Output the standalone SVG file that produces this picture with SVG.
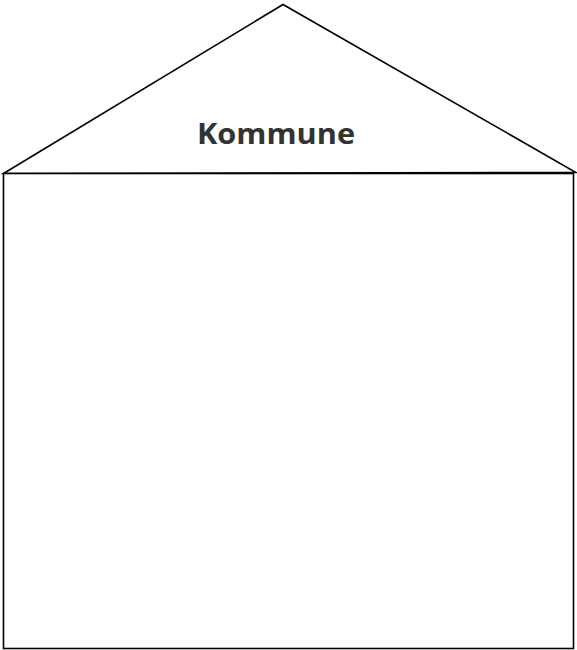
<svg xmlns="http://www.w3.org/2000/svg" width="577" height="650" viewBox="0 0 577 650">
  <style>
    .outline { fill: #ffffff; stroke: #000000; stroke-width: 1.6; stroke-linejoin: miter; }
    .title { font-family: "Open Sans", "Liberation Sans", sans-serif; font-weight: bold; font-size: 29px; fill: #333333; }
  </style>
  <rect width="577" height="650" fill="#ffffff"/>
  <!-- roof -->
  <g id="roof">
    <polygon class="outline" points="3.5,173.5 283,4.5 576,172.5"/>
    <text class="title" x="276" y="143.5" text-anchor="middle" textLength="158" lengthAdjust="spacingAndGlyphs">Kommune</text>
  </g>
  <!-- house body -->
  <g id="body">
    <rect class="outline" x="3.5" y="173.5" width="570" height="475"/>
  </g>
</svg>
